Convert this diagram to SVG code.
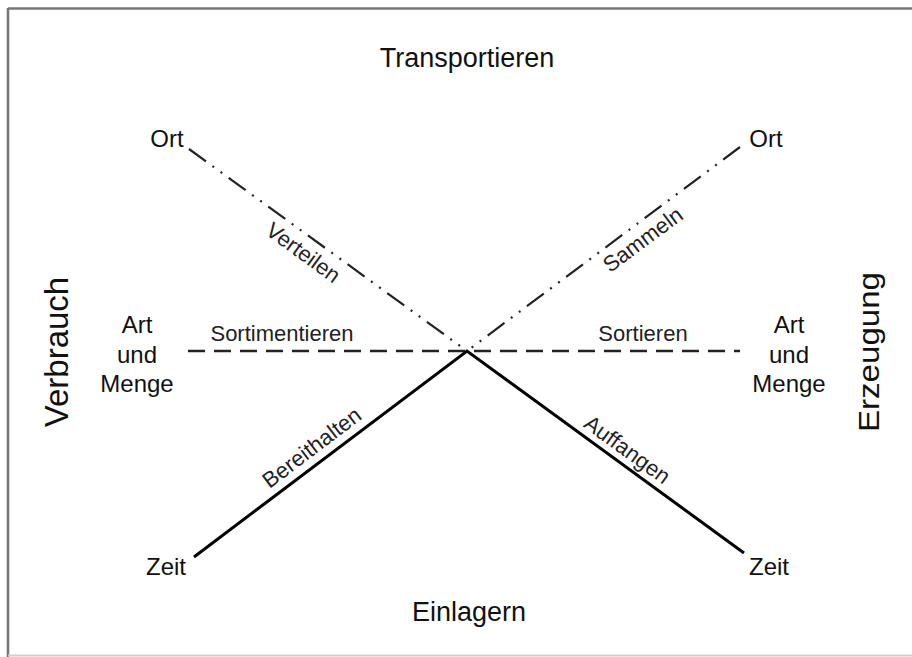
<svg xmlns="http://www.w3.org/2000/svg" width="912" height="657" viewBox="0 0 912 657">
<style>
text{font-family:"Liberation Sans",Arial,sans-serif;fill:#111;}
.lbl{font-size:24px;text-anchor:middle;}
.big{font-size:27px;text-anchor:middle;}
.side{font-size:33px;text-anchor:middle;}
.act{font-size:22px;text-anchor:middle;fill:#222;}
.solid{stroke:#000;stroke-width:3;fill:none;}
.dash{stroke:#222;stroke-width:2.5;stroke-dasharray:17 9;fill:none;}
.dd{stroke:#222;stroke-width:2.2;stroke-dasharray:21 8 2 8 2 8;fill:none;}
</style>
<rect x="0" y="0" width="912" height="657" fill="#fff"/>
<g id="frame">
<line x1="8" y1="8.5" x2="912" y2="8.5" stroke="#767676" stroke-width="2.5"/>
<line x1="8" y1="8" x2="8" y2="657" stroke="#767676" stroke-width="2.5"/>
<line x1="8" y1="655.5" x2="912" y2="655.5" stroke="#d0d0d0" stroke-width="2"/>
</g>
<g id="connectors">
<line class="dd" x1="189" y1="149" x2="467" y2="351"/>
<line class="dd" x1="740" y1="147" x2="467" y2="351"/>
<line class="dash" x1="188" y1="351" x2="740" y2="351"/>
<polyline class="solid" points="194,557 467,351 744,553"/>
</g>
<g id="title-top"><text class="big" x="467" y="67">Transportieren</text></g>
<g id="title-bottom"><text class="big" x="469" y="621">Einlagern</text></g>
<g id="verbrauch"><text class="side" transform="translate(68,352) rotate(-90)">Verbrauch</text></g>
<g id="erzeugung"><text class="side" transform="translate(879,352) rotate(-90)" style="font-size:29px" textLength="160" lengthAdjust="spacingAndGlyphs">Erzeugung</text></g>
<g id="ort-left"><text class="lbl" x="167" y="147">Ort</text></g>
<g id="ort-right"><text class="lbl" x="766" y="147">Ort</text></g>
<g id="artmenge-left"><text class="lbl" x="137" y="333">Art</text><text class="lbl" x="137" y="363">und</text><text class="lbl" x="137" y="392">Menge</text></g>
<g id="artmenge-right"><text class="lbl" x="789" y="333">Art</text><text class="lbl" x="789" y="363">und</text><text class="lbl" x="789" y="392">Menge</text></g>
<g id="zeit-left"><text class="lbl" x="166" y="575">Zeit</text></g>
<g id="zeit-right"><text class="lbl" x="769" y="575">Zeit</text></g>
<g id="label-sortimentieren"><text class="act" x="282" y="341">Sortimentieren</text></g>
<g id="label-sortieren"><text class="act" x="643" y="341">Sortieren</text></g>
<g id="label-verteilen"><text class="act" transform="translate(303,253) rotate(36)" dy="7">Verteilen</text></g>
<g id="label-sammeln"><text class="act" transform="translate(643,240) rotate(-36.6)" dy="7">Sammeln</text></g>
<g id="label-bereithalten"><text class="act" transform="translate(312,448) rotate(-37.2)" dy="7">Bereithalten</text></g>
<g id="label-auffangen"><text class="act" transform="translate(627,450) rotate(36)" dy="7">Auffangen</text></g>
</svg>
